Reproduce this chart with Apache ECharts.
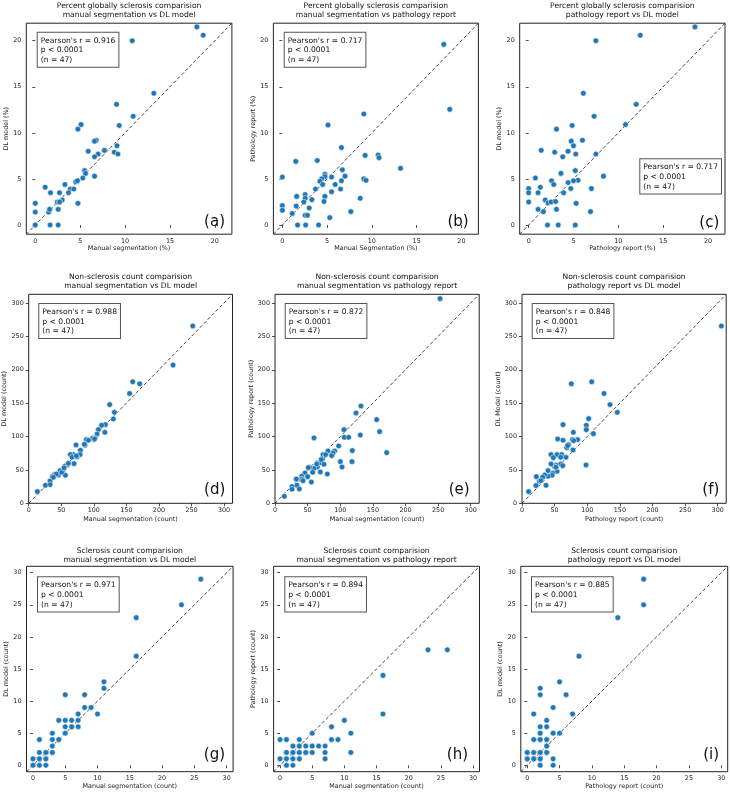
<!DOCTYPE html>
<html><head><meta charset="utf-8">
<script src="https://cdn.jsdelivr.net/npm/echarts@6/dist/echarts.min.js"></script>
<style>html,body{margin:0;padding:0;background:#fff}#c{width:730px;height:793px}</style>
</head><body><div id="c"></div>
<script>
// ---- data ----
const a_x = [18.0,18.7,10.8,13.2,9.05,10.9,5.1,4.75,9.35,6.8,6.6,5.9,7.7,7.0,6.6,9.1,8.8,9.2,5.5,5.6,5.3,6.6,4.7,4.5,3.3,1.1,3.9,4.3,1.7,2.7,3.7,3.0,2.45,2.7,4.75,0,1.6,1.5,2.55,0,0,1.65,2.55,4.7,2.7,0,1.6];
const a_y = [21.5,20.6,20.0,14.3,13.1,11.8,10.9,10.4,10.8,9.2,9.1,8.0,8.1,7.7,7.4,8.6,7.9,7.7,5.9,5.6,5.1,5.3,4.8,4.7,4.4,4.1,3.9,3.9,3.5,3.5,3.5,2.7,2.5,2.5,2.35,2.35,1.7,1.4,1.7,1.4,0,0,0,4.8,2.5,0,1.7];
const b_x = [18.03,18.7,9.1,5.1,6.6,1.5,3.9,10.7,9.25,10.8,13.2,6.7,7.0,6.6,5.5,4.75,4.75,4.4,4.2,4.5,5.9,9.1,9.35,0,3.7,6.5,5.5,2.55,1.6,4.75,2.55,8.7,3.3,4.65,2.4,3.0,1.55,0,0,1.1,7.65,2.55,2.8,5.3,1.7,2.6,4.05];
const b_y = [19.6,12.55,12.05,10.85,8.4,6.9,7.0,7.6,7.55,7.3,6.15,6.0,5.3,4.8,5.2,5.5,5.25,5.0,4.75,4.4,4.4,5.0,4.85,5.2,3.9,3.9,3.6,3.3,3.1,3.1,2.9,2.9,2.75,2.55,2.5,1.85,2.05,2.1,1.6,1.25,1.45,1.05,1.05,0.8,0,0,0];
const c_x = [18.55,12.45,7.5,6.1,12.0,7.3,10.8,3.1,4.85,6.0,4.75,5.0,1.4,4.4,2.9,5.25,7.5,3.8,3.6,5.2,8.35,0.75,5.5,5.0,2.55,2.8,4.4,0,1.3,4.7,7.0,0,1.05,3.9,1.85,2.15,2.5,3.0,0,5.3,1.05,3.1,1.65,6.9,2.1,3.3,5.2];
const c_y = [21.5,20.6,20.0,14.3,13.1,11.8,10.9,10.4,10.8,9.2,9.1,8.6,8.1,8.0,7.9,7.7,7.7,7.4,5.6,5.9,5.3,5.1,4.85,4.8,4.8,4.4,4.6,3.95,4.1,3.95,3.95,3.5,3.5,3.5,2.7,2.4,2.5,2.55,2.5,2.35,1.7,1.7,1.45,1.45,0,0,0];
const d_x = [252,221.7,159.8,170.5,155,124.4,131.6,130,117,117.8,112,107,105,100.4,98.3,102,88.6,91.7,86.5,72.7,79.4,78.9,74.2,68.6,64,66.6,69.6,59.4,55.3,52.7,48.1,56.3,45.6,39.4,36.4,32.8,32.8,25.6,13.3,42.5,50.7,60.9,73,85.5,101,54.3,37.9];
const d_y = [265.6,207,182,179,164.5,147.8,136.3,126.3,106.3,117.8,116.8,110.3,103.8,95.4,97.9,97.9,95.4,94.4,86.9,87.4,79.4,72.9,69.4,72.9,72.9,68.9,59.4,57.4,55.4,48.9,48.9,41.9,42.4,42.9,39.9,33.5,28,27,17.5,43.9,46.4,59.9,71,88.4,96.4,52.9,38.9];
const e_x = [253,131.8,124.2,155.9,160.4,105.8,106.3,112.9,130.8,59.8,97.6,118.5,171.2,91.5,81.2,88.9,86.9,73.6,73.1,68.5,75.1,100.2,118,102.7,64.9,59.8,53.1,57.7,69.5,80.2,46,50.1,40.9,38.8,32.7,41.4,33.7,37.3,55.7,26.1,26.1,14.3,71,63.9,77.7,51.1,42.9];
const e_y = [306.5,145.8,135.3,125.3,107.3,110.3,98.9,98.9,102.3,97.9,85.9,78.9,75.9,78.4,78.4,75.4,71.4,72.9,66.9,60.4,58.4,62.4,62.4,54.4,54.4,52.4,53.9,46.4,46.9,43.9,45.4,39.9,40.4,35.9,36.4,35.9,27,21.5,32,25,21,10.5,65.4,58.9,72.9,53.4,33.9];
const f_x = [305.6,106.8,75.6,125.7,134.9,146.1,102.2,109.4,98.6,98.6,62.9,78.7,54.7,62.9,77.3,85.3,79.2,71.5,78.2,68.5,44.5,53.7,60.8,48,59.3,67.4,98.1,59.3,52.1,49.6,39.9,53.7,47,46,39.9,34.7,31.7,22,36.8,26.6,21.5,10.2,52,29,62.4,70,44.5];
const f_y = [265.6,182,179,164.5,147.8,136.3,126.8,104.3,116.8,110.3,117.8,106.3,96.4,94.4,95.4,95.4,93.9,87.9,79.9,83.4,72.9,72.9,72.9,68.4,68.9,68.9,57.4,58.9,57.4,55.4,48.9,47.9,44.9,41.9,40.4,42.4,38.9,39.9,27,33,26.5,17.5,54,34,56.4,86.4,58.9];
const g_x = [26,23,16,16,11,11,5,8,8,9,10,7,4,5,6,7,5,6,7,3,5,1,3,4,3,1,2,3,0,1,2,0,1,2,1,2,3,0,1,2,3,5,4,6,2,1,0];
const g_y = [29,25,23,17,13,12,11,11,9,9,8,8,7,7,7,7,6,6,6,5,5,4,4,4,3,2,2,2,1,1,1,0,0,0,1,2,3,0,0,1,2,5,4,6,2,1,1];
const h_x = [23,26,16,16,10,8,5,11,0,1,3,8,9,2,3,4,5,6,7,1,2,3,4,5,7,11,0,1,2,3,7,1,2,1,2,3,2,1,3,2,4,5,0,1,3,2,1];
const h_y = [18,18,14,8,7,6,5,5,4,4,4,4,4,3,3,3,3,3,3,2,2,2,2,2,2,2,1,1,1,1,1,0,0,1,2,2,1,2,3,3,2,3,1,0,1,2,1];
const i_x = [18,18,14,8,5,2,2,6,4,1,7,3,2,3,2,4,5,1,2,3,3,0,1,2,3,0,1,2,4,2,4,1,2,2,3,1,0,2,3,2,1,2,3,2,0,2,4];
const i_y = [29,25,23,17,13,12,11,11,9,8,8,7,6,6,5,5,5,4,4,4,3,2,2,2,2,1,1,1,1,0,0,1,2,1,2,2,1,4,3,2,1,0,4,5,2,1,5];

const pctTicks = [0,5,10,15,20];
const nonTicks = [0,50,100,150,200,250,300];
const sclTicks = [0,5,10,15,20,25,30];
const pctRange = [-1,21.9];
const nonRange = [0,313];
const sclRange = [-1,31];

const titles = [
 'Percent globally sclerosis comparision\nmanual segmentation vs DL model',
 'Percent globally sclerosis comparision\nmanual segmentation vs pathology report',
 'Percent globally sclerosis comparision\npathology report vs DL model',
 'Non-sclerosis count comparision\nmanual segmentation vs DL model',
 'Non-sclerosis count comparision\nmanual segmentation vs pathology report',
 'Non-sclerosis count comparision\npathology report vs DL model',
 'Sclerosis count comparision\nmanual segmentation vs DL model',
 'Sclerosis count comparision\nmanual segmentation vs pathology report',
 'Sclerosis count comparision\npathology report vs DL model'];
const xNames = ['Manual segmentation (%)','Manual Segmentation (%)','Pathology report (%)',
 'Manual segmentation (count)','Manual segmentation (count)','Pathology report (count)',
 'Manual segmentation (count)','Manual segmentation (count)','Pathology report (count)'];
const yNames = ['DL model (%)','Pathology report (%)','DL model (%)',
 'DL model (count)','Pathology report (count)','DL Model (count)',
 'DL model (count)','Pathology report (count)','DL model (count)'];
const rValues = ['0.916','0.717','0.717','0.988','0.872','0.848','0.971','0.894','0.885'];
const tags = ['(a)','(b)','(c)','(d)','(e)','(f)','(g)','(h)','(i)'];

// ---- layout ----
const xs = [a_x,b_x,c_x,d_x,e_x,f_x,g_x,h_x,i_x];
const ys = [a_y,b_y,c_y,d_y,e_y,f_y,g_y,h_y,i_y];
const rowRange = [pctRange, nonRange, sclRange];
const rowTicks = [pctTicks, nonTicks, sclTicks];
const rowTop = [23.2, 294.3, 566.3];
const rowH = [211, 209, 205.4];
const rowTitleY = [10.5, 281.5, 555.5];
const rowXNameGap = [11.5, 13, 12];
const boxes = [
 [26.3,205.6],[273.4,205],[519.7,205.3],
 [28.7,203.8],[275,204.2],[522,204.2],
 [26.5,206.6],[273.6,205.9],[520.8,206.9]];
const yGap = [16.5,16,16.5, 20.5,20.5,20.5, 16,17,17];
const statPos = [[37.7,32.7],[284.7,32.7],[640.3,159.3],[39.3,304],[285.7,304],[532.7,304],[38,577.3],[285.3,577.3],[532,577.3]];
const tagPos = [[225,222.5],[468.7,222.5],[719.3,223],[225.3,490.5],[469.7,490.5],[719.3,490.5],[225,755.5],[468,755.5],[719,755.5]];

const FONT = 'DejaVu Sans';
const grids=[], xAxes=[], yAxes=[], series=[], graphics=[];
for (let k=0;k<9;k++){
  const row = Math.floor(k/3);
  const rng = rowRange[row], tk = rowTicks[row];
  grids.push({left:boxes[k][0], top:rowTop[row], width:boxes[k][1], height:rowH[row],
    show:true, borderColor:'#222', borderWidth:1, backgroundColor:'transparent', containLabel:false});
  const axisCommon = {
    type:'value', gridIndex:k, min:rng[0], max:rng[1],
    axisLine:{show:false},
    axisTick:{show:true, length:3, lineStyle:{color:'#222', width:0.8}, customValues:tk},
    axisLabel:{fontSize:6.4, color:'#222', fontFamily:FONT, customValues:tk, showMinLabel:true, showMaxLabel:true},
    splitLine:{show:false},
    nameLocation:'middle',
    nameTextStyle:{fontSize:6.4, color:'#222', fontFamily:FONT}
  };
  xAxes.push(Object.assign({}, axisCommon, {name:xNames[k], nameGap:rowXNameGap[row],
    axisLabel:Object.assign({}, axisCommon.axisLabel, {margin:4})}));
  yAxes.push(Object.assign({}, axisCommon, {name:yNames[k], nameGap:yGap[k],
    axisLabel:Object.assign({}, axisCommon.axisLabel, {margin:5})}));
  series.push({type:'line', xAxisIndex:k, yAxisIndex:k, data:[[rng[0],rng[0]],[rng[1],rng[1]]],
    symbol:'none', silent:true, z:1, lineStyle:{color:'#333', width:0.9, type:[3.5,2.2]}});
  series.push({type:'scatter', xAxisIndex:k, yAxisIndex:k, z:3,
    data: xs[k].map((v,j)=>[v, ys[k][j]]),
    symbolSize:5.6, itemStyle:{color:'#1f77b4', borderColor:'#fff', borderWidth:0.5, opacity:1}});
  graphics.push({type:'text', x:boxes[k][0]+boxes[k][1]/2, y:rowTitleY[row], z:10,
    style:{text:titles[k], fill:'#111', font:'7.6px "'+FONT+'"', align:'center', verticalAlign:'middle', lineHeight:9.6}});
  graphics.push({type:'text', x:statPos[k][0], y:statPos[k][1], z:10,
    style:{text:"Pearson's r = "+rValues[k]+"\np < 0.0001\n(n = 47)", fill:'#111', font:'7.6px "'+FONT+'"',
      lineHeight:9.7, padding:[3,3,2,3], backgroundColor:'#fff', borderColor:'#555', borderWidth:1}});
  graphics.push({type:'text', x:tagPos[k][0], y:tagPos[k][1], z:10,
    style:{text:tags[k], fill:'#111', font:'15px "'+FONT+'"', align:'right', verticalAlign:'middle'}});
}
const chart = echarts.init(document.getElementById('c'), null, {renderer:'canvas'});
chart.setOption({animation:false, grid:grids, xAxis:xAxes, yAxis:yAxes, series:series, graphic:graphics});
</script></body></html>
